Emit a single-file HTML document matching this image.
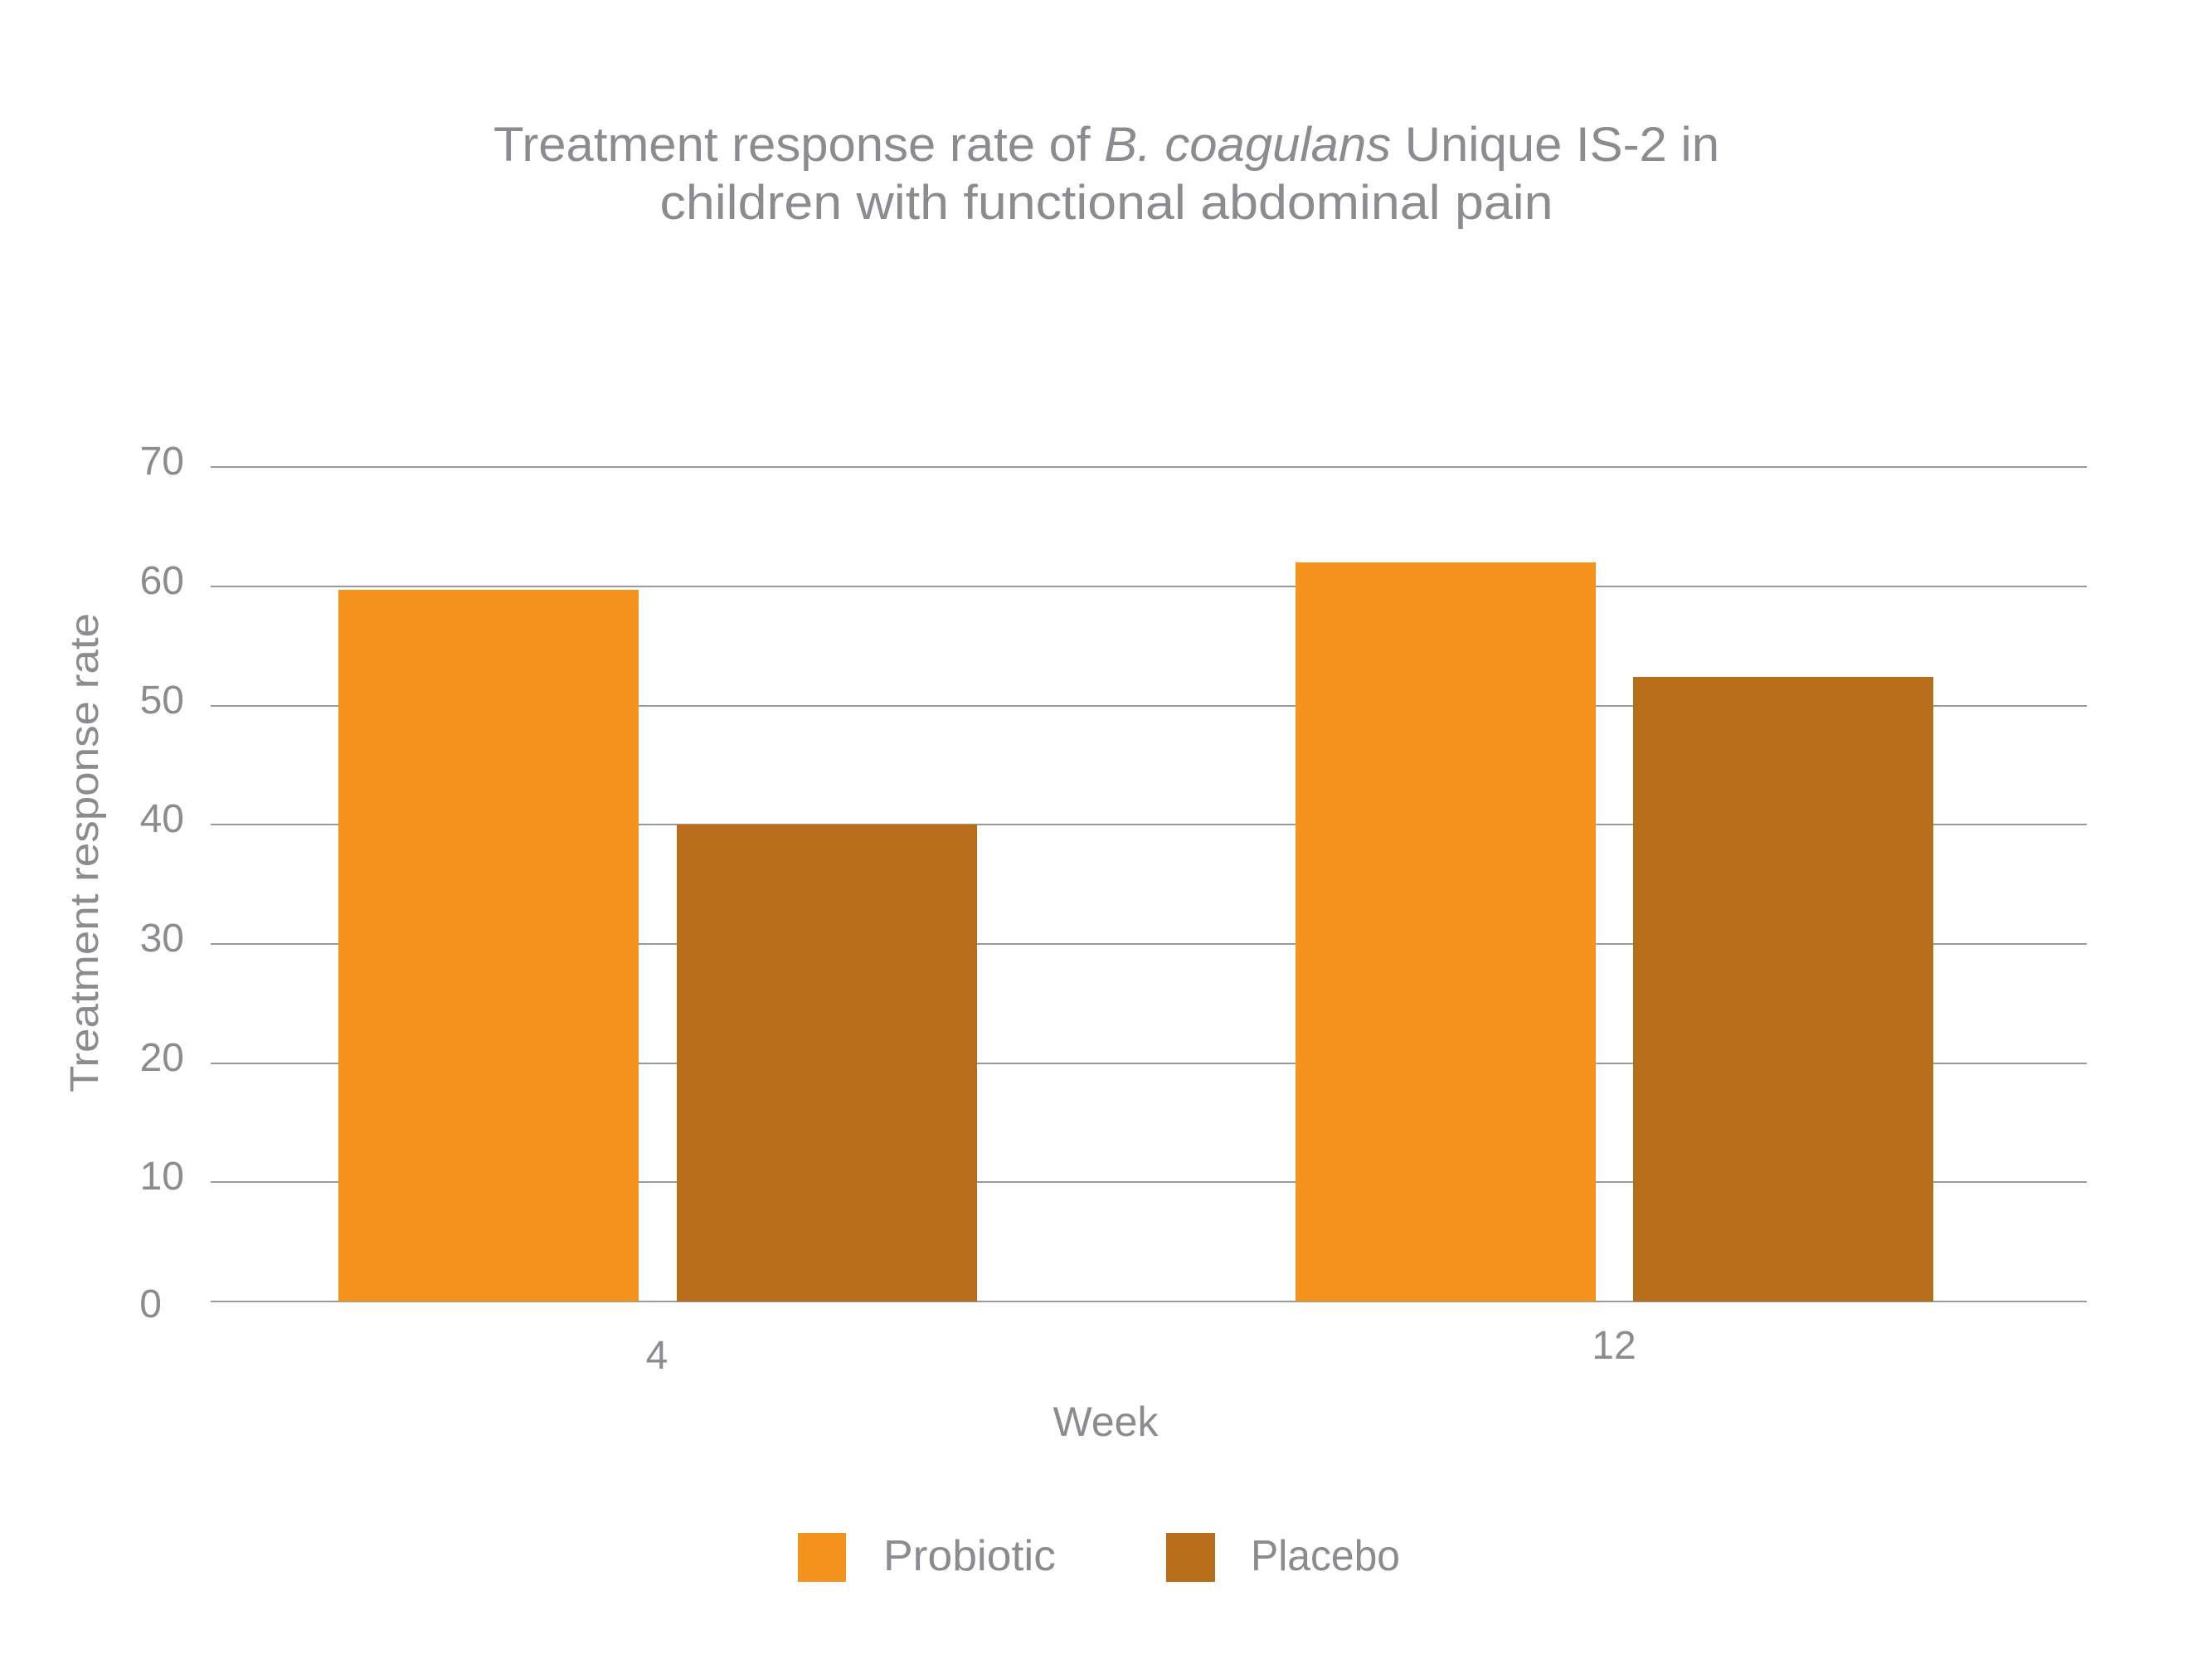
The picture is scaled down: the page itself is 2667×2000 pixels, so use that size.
<!DOCTYPE html>
<html><head><meta charset="utf-8"><style>html,body{margin:0;padding:0;background:#fff}svg{display:block}</style></head>
<body>
<svg width="2667" height="2000" viewBox="0 0 2667 2000" xmlns="http://www.w3.org/2000/svg" font-family="Liberation Sans, sans-serif" fill="#8b8b90">
<rect width="2667" height="2000" fill="#fff"/>
<text x="1334" y="194" font-size="58" text-anchor="middle" textLength="1478" lengthAdjust="spacingAndGlyphs">Treatment response rate of <tspan font-style="italic">B. coagulans</tspan> Unique IS-2 in</text>
<text x="1334" y="264" font-size="58" text-anchor="middle" textLength="1077" lengthAdjust="spacingAndGlyphs">children with functional abdominal pain</text>
<g stroke="#9a9a9a" stroke-width="2">
<line x1="254" x2="2516" y1="563" y2="563"/>
<line x1="254" x2="2516" y1="707" y2="707"/>
<line x1="254" x2="2516" y1="851" y2="851"/>
<line x1="254" x2="2516" y1="994" y2="994"/>
<line x1="254" x2="2516" y1="1138" y2="1138"/>
<line x1="254" x2="2516" y1="1282" y2="1282"/>
<line x1="254" x2="2516" y1="1425" y2="1425"/>
<line x1="254" x2="2516" y1="1569" y2="1569"/>
</g>
<g font-size="48" text-anchor="end">
<text x="222" y="572">70</text>
<text x="222" y="716">60</text>
<text x="222" y="860">50</text>
<text x="222" y="1003">40</text>
<text x="222" y="1147">30</text>
<text x="222" y="1291">20</text>
<text x="222" y="1434">10</text>
<text x="195" y="1588">0</text>
</g>
<rect x="408" y="711" width="362" height="858" fill="#F5931F"/>
<rect x="816" y="994" width="362" height="575" fill="#B76D19"/>
<rect x="1562" y="678" width="362" height="891" fill="#F5931F"/>
<rect x="1969" y="816" width="362" height="753" fill="#B76D19"/>
<text x="792" y="1650" font-size="48" text-anchor="middle">4</text>
<text x="1946" y="1638" font-size="48" text-anchor="middle">12</text>
<text x="1333" y="1731" font-size="50" text-anchor="middle">Week</text>
<text transform="translate(118,1028) rotate(-90)" font-size="48" text-anchor="middle" textLength="578" lengthAdjust="spacingAndGlyphs">Treatment response rate</text>
<rect x="962" y="1848" width="58" height="59" fill="#F5931F"/>
<rect x="1406" y="1848" width="59" height="59" fill="#B76D19"/>
<text x="1065" y="1893" font-size="52" textLength="208" lengthAdjust="spacingAndGlyphs">Probiotic</text>
<text x="1508" y="1893" font-size="52" textLength="180" lengthAdjust="spacingAndGlyphs">Placebo</text>
</svg>
</body></html>
